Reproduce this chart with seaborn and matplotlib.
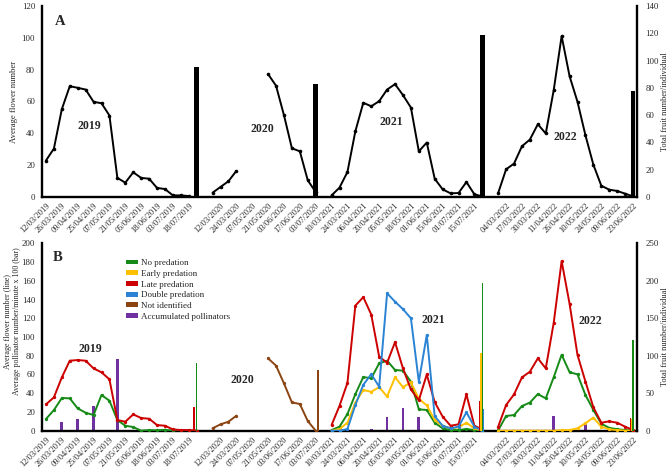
import numpy as np
import pandas as pd
import matplotlib
matplotlib.use("Agg")
import matplotlib.pyplot as plt
import seaborn as sns
from matplotlib.patches import Patch

sns.set_theme(style="white")
plt.rcParams["font.family"] = ["Liberation Serif", "DejaVu Serif"]

_ = None
N = 75

# x-axis labels shown (every second category)
tick_labels = ["12/03/2019", "26/03/2019", "09/04/2019", "25/04/2019", "07/05/2019",
               "21/05/2019", "05/06/2019", "18/06/2019", "03/07/2019", "18/07/2019", "",
               "12/03/2020", "24/03/2020", "07/05/2020", "21/05/2020", "03/06/2020",
               "17/06/2020", "03/07/2020",
               "10/03/2021", "24/03/2021", "06/04/2021", "20/04/2021", "05/05/2021",
               "18/05/2021", "01/06/2021", "15/06/2021", "01/07/2021", "15/07/2021", "",
               "04/03/2022", "17/03/2022", "30/03/2022", "11/04/2022", "26/04/2022",
               "10/05/2022", "24/05/2022", "09/06/2022", "23/06/2022"]
years = ["2019", "2020", "2021", "2022"]

# ---------- Panel A ----------
flowers_A = ([22.9, 30.4, 55.2, 69.6, 68.6, 67.5, 59.8, 58.9, 51.2, 12.0, 9.0, 15.5, 12.0,
              11.5, 5.7, 5.0, 1.0, 1.0, 0.6, _, _] +
             [2.7, 6.3, 9.9, 16.4, _, _, _, 77.2, 69.9, 51.4, 30.6, 28.7, 10.5, 3.1, _] +
             [1.0, 5.9, 15.7, 41.3, 59.2, 57.0, 60.2, 67.5, 70.9, 64.0, 56.2, 28.7, 34.2,
              11.5, 4.8, 2.3, 2.5, 9.4, 1.7, 0.4, _] +
             [2.5, 17.4, 21.0, 31.9, 36.1, 45.7, 39.9, 67.1, 101.1, 75.9, 59.8, 38.8, 20.3,
              7.1, 4.6, 3.8, 2.1, 0.4])
fruit_A = [_] * 19 + [95.5] + [_] * 14 + [82.5] + [_] * 20 + [118.7] + [_] * 18 + [77.8]

# ---------- Panel B (lines: average flower number) ----------
no_pred = ([12.5, 22.0, 34.9, 34.5, 23.8, 19.2, 16.7, 38.1, 32.0, 11.4, 5.3, 3.9, 0.0, 0.7,
            0.4, 1.0, 0.0, 0.0, 0.0, 0.0, _] + [_] * 15 +
           [0.7, 4.3, 17.8, 39.0, 57.3, 55.9, 71.9, 74.7, 64.8, 64.1, 52.3, 22.8, 22.1, 8.5,
            2.5, 0.7, 0.7, 1.8, 0.7, 0.0, _] +
           [0.3, 15.7, 16.7, 26.3, 30.0, 39.1, 34.5, 57.0, 81.0, 62.5, 60.1, 38.1, 22.1, 7.5,
            3.0, 1.6, 0.7, 0.0])
early_pred = ([_] * 36 +
              [0.0, 1.8, 8.5, 30.0, 43.5, 41.5, 46.5, 36.5, 57.0, 46.5, 51.5, 34.0, 27.0, 11.4,
               5.3, 2.5, 3.6, 8.5, 2.5, 0.0, _] +
              [0.0, 0.0, 0.0, 0.0, 0.0, 0.0, 0.0, 0.0, 0.5, 0.7, 2.5, 8.0, 14.0, 4.3, 1.4,
               0.7, 0.0, 0.0])
late_pred = ([28.1, 35.6, 56.9, 74.7, 75.4, 74.7, 66.5, 62.3, 54.8, 11.4, 9.6, 17.4, 13.5,
              12.8, 6.0, 5.3, 1.4, 0.7, 0.7, 0.0, _] + [_] * 15 +
             [6.0, 26.5, 51.0, 133.5, 142.5, 124.0, 79.0, 72.5, 94.5, 66.5, 44.0, 32.5, 60.0,
              30.5, 15.0, 5.3, 6.8, 38.8, 5.3, 1.4, _] +
             [4.3, 27.4, 38.8, 56.9, 63.0, 77.2, 66.5, 115.0, 181.0, 135.5, 80.8, 52.5, 25.0,
              8.5, 10.0, 8.5, 4.3, 0.7])
double_pred = ([_] * 36 +
               [0.0, 0.0, 1.8, 27.4, 49.0, 60.3, 47.0, 146.6, 137.7, 129.7, 120.0, 52.3, 102.1,
                15.5, 5.3, 2.5, 4.3, 19.6, 4.3, 0.0, _] + [_] * 18)
not_identified = ([_] * 21 +
                  [2.5, 6.8, 9.6, 16.0, _, _, _, 77.2, 69.4, 50.5, 30.2, 28.5, 10.3, 0.0, _] +
                  [_] * 39)
# bars: average pollinator number/minute x 100
pollinators = ([_, _, 9.6, _, 12.0, _, 26.3, _, _, 77.0] + [_] * 31 +
               [1.5, _, 15.0, _, 24.5, _, 14.3] + [_] * 16 + [15.7, _, _, _, 7.1] + [_] * 6)
# bars: total fruit number/individual per predation type, per year
fruit_no_pred = [90.0, 0, 196.6, 121.0]
fruit_early = [0, 0, 104.0, 15.0]
fruit_late = [31.0, 0, 39.6, 16.5]
fruit_double = [0, 0, 29.0, 0]
fruit_not_id = [0, 81.0, 0, 0]

for s in (flowers_A, fruit_A, no_pred, early_pred, late_pred, double_pred,
          not_identified, pollinators):
    assert len(s) == N, len(s)

C_GREEN = "#168a16"
C_YELLOW = "#ffc000"
C_RED = "#cc0000"
C_BLUE = "#2a83d4"
C_BROWN = "#8b4513"
C_PURPLE = "#7030a0"


def segments(vals):
    s = pd.Series(vals, dtype=float)
    mask = s.notna()
    grp = (mask != mask.shift()).cumsum()
    for _, sub in s[mask].groupby(grp[mask]):
        yield sub.index.values.astype(float), sub.values


def draw_line(ax, vals, color, lw, ms, z=3):
    for xs, ys in segments(vals):
        sns.lineplot(x=xs, y=ys, ax=ax, color=color, lw=lw, marker="o",
                     markersize=ms, markeredgewidth=0, estimator=None, zorder=z)


def style_axes(ax, ax2, ymax, ystep, y2max, y2step):
    ax.set_xlim(-0.5, N - 0.5)
    ax2.set_xlim(-0.5, N - 0.5)
    ax.set_ylim(0, ymax)
    ax.set_yticks(np.arange(0, ymax + 1, ystep))
    ax2.set_ylim(0, y2max)
    ax2.set_yticks(np.arange(0, y2max + 1, y2step))
    ax.set_xticks(np.arange(0, N, 2))
    ax.set_xticklabels(tick_labels, rotation=45, ha="right", rotation_mode="anchor",
                       fontsize=6)
    ax.tick_params(axis="x", length=2, width=0.6, pad=1.5, color="black")
    ax.tick_params(axis="y", length=0, pad=5, labelsize=6.3)
    ax2.tick_params(axis="y", length=0, pad=6, labelsize=6.3)
    for sp in ("top", "right"):
        ax.spines[sp].set_visible(False)
    for sp in ("top", "left", "bottom"):
        ax2.spines[sp].set_visible(False)
    for sp in ("left", "bottom"):
        ax.spines[sp].set_linewidth(1.7)
        ax.spines[sp].set_color("black")
    ax2.spines["right"].set_linewidth(1.7)
    ax2.spines["right"].set_color("black")
    ax.grid(False)
    ax2.grid(False)
    ax.set_xlabel("")


fig = plt.figure(figsize=(6.69, 4.72), dpi=100)
W, H = 669, 472
axA = fig.add_axes([42 / W, 1 - 197 / H, 595 / W, 191 / H])
axB = fig.add_axes([42 / W, 1 - 430.7 / H, 595 / W, 187.4 / H])
axA2 = axA.twinx()
axB2 = axB.twinx()

bar_kw = dict(edgecolor="none", linewidth=0)

# ----- Panel A -----
draw_line(axA, flowers_A, "black", 1.4, 2.6)
fa = pd.Series(fruit_A, dtype=float).dropna()
axA2.bar(fa.index.values, fa.values, width=0.6, color="black", zorder=2, **bar_kw)
style_axes(axA, axA2, 120, 20, 140, 20)
axA.set_ylabel("Average flower number", fontsize=6.2)
axA.yaxis.set_label_coords(-0.040, 0.5)
axA2.set_ylabel("Total fruit number/individual", fontsize=6.0, rotation=90)
axA2.yaxis.set_label_coords(1.041, 0.5)

txt_kw = dict(ha="center", va="center", fontweight="bold", fontsize=8.5)
axA.text(0.030, 0.918, "A", transform=axA.transAxes, ha="center", va="center",
         fontweight="bold", fontsize=10.5)
for label, (xf, yf) in zip(years, [(0.079, 0.373), (0.370, 0.354), (0.587, 0.394),
                                   (0.879, 0.316)]):
    axA.text(xf, yf, label, transform=axA.transAxes, **txt_kw)

# ----- Panel B -----
pol = pd.Series(pollinators, dtype=float).dropna()
axB.bar(pol.index.values, pol.values, width=0.35, color=C_PURPLE, zorder=2, **bar_kw)
draw_line(axB, no_pred, C_GREEN, 1.4, 2.4, z=3)
draw_line(axB, early_pred, C_YELLOW, 1.4, 2.4, z=3)
draw_line(axB, late_pred, C_RED, 1.4, 2.4, z=3)
draw_line(axB, double_pred, C_BLUE, 1.4, 2.4, z=3)
draw_line(axB, not_identified, C_BROWN, 1.4, 2.4, z=3)

year_pos = fa.index.values.astype(float)   # category of each year's fruit total
bw = 0.17
for vals, col, off in [(fruit_late, C_RED, -0.33), (fruit_early, C_YELLOW, -0.17),
                       (fruit_no_pred, C_GREEN, 0.0), (fruit_double, C_BLUE, 0.16),
                       (fruit_not_id, C_BROWN, 0.31)]:
    axB2.bar(year_pos + off, vals, width=bw, color=col, zorder=2, **bar_kw)

style_axes(axB, axB2, 200, 20, 250, 50)
axB.set_ylabel("Average flower number (line)\nAverage pollinator number/minute x 100 (bar)",
               fontsize=5.8, linespacing=1.15)
axB.yaxis.set_label_coords(-0.036, 0.585)
axB2.set_ylabel("Total fruit number/individual", fontsize=6.0, rotation=90)
axB2.yaxis.set_label_coords(1.041, 0.5)

axB.text(0.027, 0.925, "B", transform=axB.transAxes, ha="center", va="center",
         fontweight="bold", fontsize=10.5)
for label, (xf, yf) in zip(years, [(0.082, 0.434), (0.336, 0.271), (0.657, 0.591),
                                   (0.921, 0.585)]):
    axB.text(xf, yf, label, transform=axB.transAxes, **txt_kw)

legend_names = ["No predation", "Early predation", "Late predation", "Double predation",
                "Not identified", "Accumulated pollinators"]
legend_cols = [C_GREEN, C_YELLOW, C_RED, C_BLUE, C_BROWN, C_PURPLE]
handles = [Patch(facecolor=c, edgecolor="none", label=n)
           for n, c in zip(legend_names, legend_cols)]
axB2.legend(handles=handles, loc="upper left", bbox_to_anchor=(0.142, 0.915),
            frameon=False, fontsize=6.5, handlelength=1.3, handleheight=0.45,
            handletextpad=0.35, labelspacing=0.3, borderpad=0, borderaxespad=0)

fig.savefig("out.png", dpi=100)
